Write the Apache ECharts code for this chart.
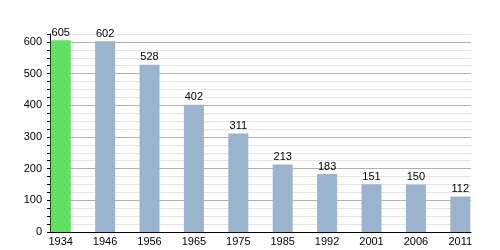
<!DOCTYPE html>
<html>
<head>
<meta charset="utf-8">
<script src="https://cdn.jsdelivr.net/npm/echarts@6/dist/echarts.min.js"></script>
<style>html,body{margin:0;padding:0;background:#fff;}#c{width:500px;height:250px;}</style>
</head>
<body>
<div id="c"></div>
<script>
const categories = ['1934','1946','1956','1965','1975','1985','1992','2001','2006','2011'];
const population = [605, 602, 528, 402, 311, 213, 183, 151, 150, 112];
const barColors = ['#62e062','#9ab4cd','#9ab4cd','#9ab4cd','#9ab4cd','#9ab4cd','#9ab4cd','#9ab4cd','#9ab4cd','#9ab4cd'];
const yMax = 625;

const chart = echarts.init(document.getElementById('c'), null, {renderer:'canvas'});
const font = 'Liberation Sans, Arial, sans-serif';
chart.setOption({
  animation: false,
  grid: [
    {left: 50, right: 29, top: 34, bottom: 18},
    {left: 60.7, right: 39.7, top: 34, bottom: 18}
  ],
  xAxis: [
    {gridIndex: 0, type: 'value', min: 0, max: 1,
     axisLine: {show: true, onZero: false, lineStyle: {color: '#000', width: 1}},
     axisTick: {show: false}, axisLabel: {show: false}, splitLine: {show: false}},
    {gridIndex: 1, type: 'category', data: categories, boundaryGap: false,
     axisLine: {show: false}, axisTick: {show: false},
     axisLabel: {show: true, color: '#000', fontSize: 11, fontFamily: font, margin: 4, interval: 0}}
  ],
  yAxis: [
    {gridIndex: 0, type: 'value', min: 0, max: yMax, interval: 25,
     axisLine: {show: true, lineStyle: {color: '#000', width: 1}},
     axisTick: {show: true, inside: false, length: 3, lineStyle: {color: '#000'}},
     axisLabel: {color: '#000', fontSize: 11, fontFamily: font, margin: 8,
       formatter: v => (v % 100 === 0 ? String(v) : '')},
     splitLine: {show: true, lineStyle: {color: ['#b0b0b0','#e4e4e4','#e4e4e4','#e4e4e4'], width: 1}}},
    {gridIndex: 1, type: 'value', min: 0, max: yMax, show: false, splitLine: {show: false}}
  ],
  series: [{
    type: 'bar', xAxisIndex: 1, yAxisIndex: 1,
    data: population.map((v, i) => ({value: v, itemStyle: {color: barColors[i]}})),
    barWidth: 20,
    label: {show: true, position: 'top', color: '#000', fontSize: 11, fontFamily: font, distance: 2}
  }]
});
</script>
</body>
</html>
